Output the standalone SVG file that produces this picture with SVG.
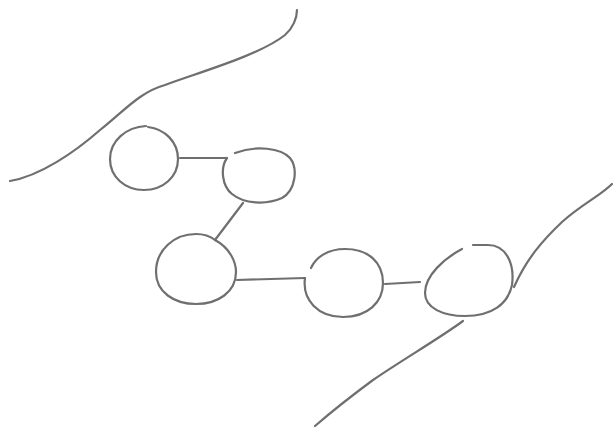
<svg xmlns="http://www.w3.org/2000/svg" width="613" height="429" viewBox="0 0 613 429">
<style>
.s{fill:none;stroke:#6f6f6f;stroke-width:2.2;stroke-linecap:round;stroke-linejoin:round}
</style>
<rect width="613" height="429" fill="#ffffff"/>
<g id="boundaries">
<path class="s" d="M10,181 C40,176 75,152 100,130 C125,110 140,92 165,85 C200,72 260,55 285,35 C293,28 297,18 297,10"/>
<path class="s" d="M612,184 C600,196 582,204 562,222 C543,240 527,258 514,287"/>
<path class="s" d="M463,321 C440,338 402,360 373,380 C350,397 330,413 315,426"/>
</g>
<g id="connectors">
<path class="s" d="M180,158 L226,158"/>
<path class="s" d="M243,203 L215,240"/>
<path class="s" d="M237,280 L305,278"/>
<path class="s" d="M385,284 L420,282"/>
</g>
<g id="node1"><path class="s" d="M148,127 C165,129 178,142 178,159 C178,177 163,190 144,190 C125,190 110,177 110,159 C110,141 126,127 146,126"/></g>
<g id="node2"><path class="s" d="M227,158 C220,168 222,186 232,194 C244,204 266,205 282,198 C296,190 298,168 290,158 C281,148 256,145 235,153"/></g>
<g id="node3"><path class="s" d="M215,240 C230,248 236,262 236,272 C236,292 218,304 196,304 C174,304 156,292 156,272 C156,250 174,234 196,234 C203,234 210,236 215,240 Z"/></g>
<g id="node4"><path class="s" d="M305,278 C302,300 318,317 343,317 C368,317 383,302 383,283 C383,262 368,249 345,249 C328,249 316,257 311,268"/></g>
<g id="node5"><path class="s" d="M462,249 C445,258 425,275 425,293 C425,308 443,316 465,316 C492,316 508,304 512,285 C515,262 505,245 488,245 L473,245"/></g>
</svg>
